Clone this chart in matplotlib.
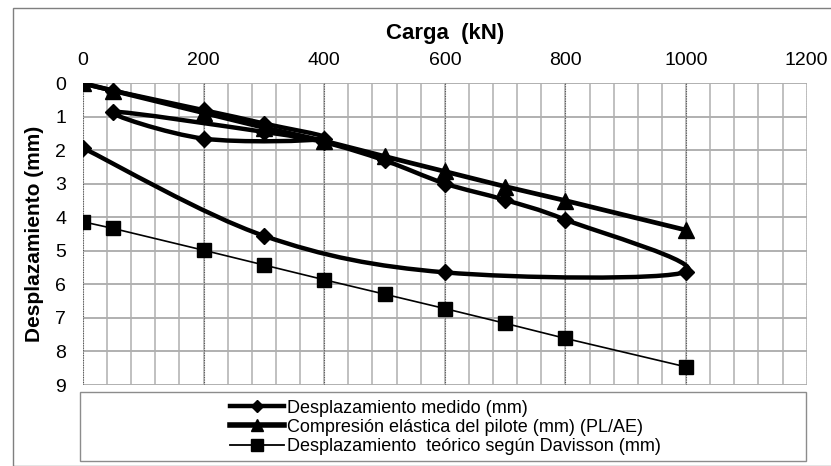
import matplotlib
matplotlib.use("Agg")
import matplotlib.pyplot as plt
from matplotlib.path import Path
from matplotlib.patches import PathPatch, Rectangle
from matplotlib.lines import Line2D
import numpy as np

plt.rcParams['font.family'] = ['Liberation Sans', 'DejaVu Sans']

# Data
medido_x = [0, 50, 200, 300, 400, 200, 50, 300, 400, 500, 600, 700, 800, 1000, 600, 300, 0]
medido_y = [0.0, 0.22, 0.80, 1.20, 1.65, 1.65, 0.85, 1.45, 1.76, 2.30, 2.99, 3.48, 4.07, 5.62, 5.64, 4.55, 1.93]

elast_x = [0, 50, 200, 300, 400, 500, 600, 700, 800, 1000]
elast_y = [0.0, 0.22, 0.88, 1.32, 1.72, 2.18, 2.63, 3.08, 3.50, 4.38]

dav_x = [0, 50, 200, 300, 400, 500, 600, 700, 800, 1000]
dav_y = [4.13, 4.33, 4.98, 5.42, 5.86, 6.29, 6.72, 7.16, 7.61, 8.46]

labels = ["Desplazamiento medido (mm)",
          "Compresión elástica del pilote (mm) (PL/AE)",
          "Desplazamiento  teórico según Davisson (mm)"]

W, H = 831, 466
fig = plt.figure(figsize=(W / 100, H / 100), dpi=100)
fig.patch.set_facecolor('white')

# chart border
fig.add_artist(Rectangle((12.5 / W, 0), (W - 12.5) / W + 0.01, (H - 7.5) / H,
                         transform=fig.transFigure, fill=False,
                         edgecolor='#7f7f7f', lw=1.0))

ax = fig.add_axes([83 / W, 1 - 385 / H, (806.7 - 83) / W, (385 - 83.3) / H])
ax.set_xlim(0, 1200)
ax.set_ylim(9, 0)

# grid
for xv in np.arange(0, 1201, 40):
    ax.axvline(xv, color='#c0c0c0', lw=1.4, zorder=0)
for xv in np.arange(0, 1201, 200):
    ax.axvline(xv, color='#555555', lw=0.8, ls=(0, (1, 1.2)), zorder=0.5)
for yv in range(0, 10):
    ax.axhline(yv, color='#b0b0b0', lw=1.4, zorder=0)
for s in ax.spines.values():
    s.set_visible(False)

ax.xaxis.tick_top()
ax.set_xticks(np.arange(0, 1201, 200))
ax.set_yticks(range(0, 10))
ax.tick_params(axis='both', length=0, labelsize=14, colors='black')
ax.tick_params(axis='x', pad=10)
ax.tick_params(axis='y', pad=12)
ax.xaxis.set_label_position('top')
ax.set_xlabel('Carga  (kN)', fontsize=16, fontweight='bold', labelpad=10)
ax.set_ylabel('Desplazamiento (mm)', fontsize=15, fontweight='bold', labelpad=8)

# smoothed line for measured series (Bezier, Excel-like)
P = np.column_stack([medido_x, medido_y]).astype(float)
n = len(P)
verts = [tuple(P[0])]
codes = [Path.MOVETO]
for i in range(n - 1):
    p0 = P[i - 1] if i > 0 else P[i]
    p1 = P[i]
    p2 = P[i + 1]
    p3 = P[i + 2] if i + 2 < n else P[i + 1]
    c1 = p1 + (p2 - p0) / 6.0
    c2 = p2 - (p3 - p1) / 6.0
    verts += [tuple(c1), tuple(c2), tuple(p2)]
    codes += [Path.CURVE4] * 3
ax.add_patch(PathPatch(Path(verts, codes), facecolor='none', edgecolor='black',
                       lw=3.2, zorder=3, capstyle='round', joinstyle='round'))
ax.plot(medido_x, medido_y, ls='none', marker='D', ms=8.5, color='black', zorder=4)

ax.plot(elast_x, elast_y, color='black', lw=3.4, marker='^', ms=11, zorder=3)
ax.plot(dav_x, dav_y, color='black', lw=1.2, marker='s', ms=9.5, zorder=3)

# legend box
fig.add_artist(Rectangle((80 / W, 1 - 461 / H), (806 - 80) / W, (461 - 392) / H,
                         transform=fig.transFigure, fill=False,
                         edgecolor='#8c8c8c', lw=1.0))
handles = [Line2D([], [], color='black', lw=3.2, marker='D', ms=6),
           Line2D([], [], color='black', lw=4.0, marker='^', ms=8),
           Line2D([], [], color='black', lw=1.3, marker='s', ms=9)]
fig.legend(handles, labels, loc='upper left', bbox_to_anchor=(217 / W, 1 - 387 / H),
           frameon=False, fontsize=13, handlelength=3.0, handletextpad=0.15,
           labelspacing=0.12, borderpad=0.2)

fig.savefig('out.png', dpi=100, facecolor='white')
